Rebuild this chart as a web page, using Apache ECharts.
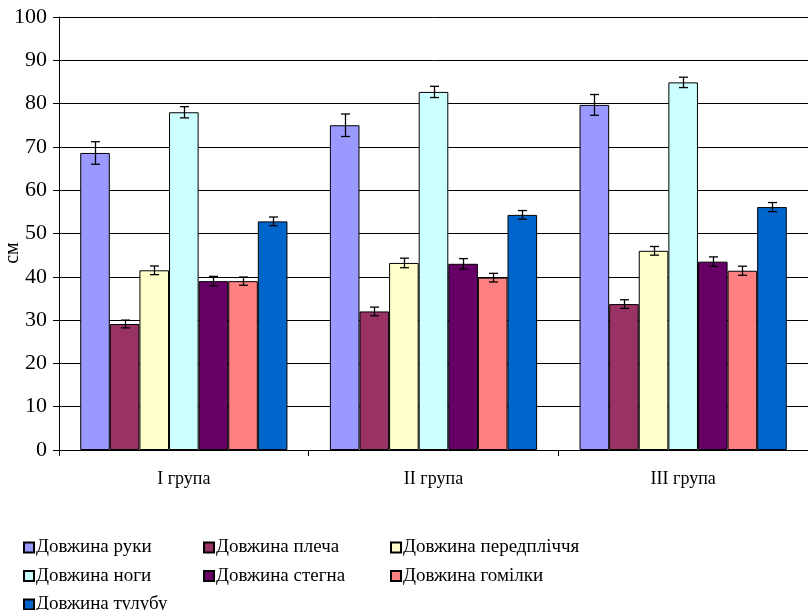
<!DOCTYPE html>
<html><head><meta charset="utf-8">
<script src="https://cdn.jsdelivr.net/npm/echarts@6/dist/echarts.min.js"></script>
<style>html,body{margin:0;padding:0;background:#fff}#c{width:808px;height:610px}</style>
</head><body><div id="c"></div>
<script>
const categories = ['I група', 'II група', 'III група'];
const seriesNames = ['Довжина руки', 'Довжина плеча', 'Довжина передпліччя', 'Довжина ноги', 'Довжина стегна', 'Довжина гомілки', 'Довжина тулубу'];
const armLen = [68.6, 75.0, 79.7];
const shoulderLen = [29.1, 32.0, 33.7];
const forearmLen = [41.5, 43.2, 46.0];
const legLen = [78.0, 82.7, 84.9];
const thighLen = [39.0, 43.0, 43.5];
const shinLen = [39.0, 39.8, 41.4];
const torsoLen = [52.8, 54.3, 56.1];
const armErr = [2.6, 2.6, 2.4];
const shoulderErr = [0.9, 1.0, 1.0];
const forearmErr = [1.0, 1.1, 1.0];
const legErr = [1.3, 1.3, 1.2];
const thighErr = [1.1, 1.2, 1.1];
const shinErr = [0.95, 1.0, 1.05];
const torsoErr = [1.0, 1.0, 1.05];
const yTicks = [0, 10, 20, 30, 40, 50, 60, 70, 80, 90, 100];

const values = [armLen, shoulderLen, forearmLen, legLen, thighLen, shinLen, torsoLen];
const errors = [armErr, shoulderErr, forearmErr, legErr, thighErr, shinErr, torsoErr];
const colors = ['#9999FF', '#993366', '#FFFFCC', '#CCFFFF', '#660066', '#FF8080', '#0066CC'];
const FONT = '"Liberation Serif", "Times New Roman", serif';
const CAT_GAP = 0.17;

const errData = [];
values.forEach((arr, si) => arr.forEach((v, ci) => errData.push([ci, v, errors[si][ci], si])));

const series = values.map((arr, i) => ({
  name: seriesNames[i], type: 'bar', data: arr,
  barGap: '0%', barCategoryGap: (CAT_GAP * 100) + '%',
  itemStyle: { color: colors[i], borderColor: '#000', borderWidth: 1 },
  emphasis: { disabled: true }, animation: false
}));
series.push({
  type: 'custom', data: errData, z: 10, animation: false, silent: true,
  encode: { x: 0, y: 1 },
  renderItem: function (params, api) {
    const ci = api.value(0), v = api.value(1), e = api.value(2), si = api.value(3);
    const band = api.size([1, 0])[0];
    const bw = band * (1 - CAT_GAP) / 7;
    const top = api.coord([ci, v + e]);
    const bot = api.coord([ci, v - e]);
    const x = Math.round(top[0] + (si - 3) * bw) + 0.5;
    const cap = 4.5;
    const st = { stroke: '#000', lineWidth: 1.3 };
    return { type: 'group', children: [
      { type: 'line', shape: { x1: x, y1: top[1], x2: x, y2: bot[1] }, style: st },
      { type: 'line', shape: { x1: x - cap, y1: top[1], x2: x + cap, y2: top[1] }, style: st },
      { type: 'line', shape: { x1: x - cap, y1: bot[1], x2: x + cap, y2: bot[1] }, style: st }
    ]};
  }
});

function legendCol(left, names) {
  return {
    left: left, top: 533, height: 90, orient: 'vertical', itemGap: 9.5,
    itemWidth: 10, itemHeight: 10, icon: 'rect', data: names, selectedMode: false,
    textStyle: { fontFamily: FONT, fontSize: 19, lineHeight: 18, color: '#000', padding: [0, 0, 0, -3] }
  };
}

const chart = echarts.init(document.getElementById('c'), null, { renderer: 'canvas' });
chart.setOption({
  animation: false,
  backgroundColor: '#fff',
  grid: { left: 59, top: 17, width: 750, height: 433, containLabel: false },
  xAxis: {
    type: 'category', data: categories,
    axisLine: { lineStyle: { color: '#000', width: 1 } },
    axisTick: { show: true, length: 6, lineStyle: { color: '#000' } },
    axisLabel: { fontFamily: FONT, fontSize: 18, color: '#000', margin: 20 }
  },
  yAxis: {
    type: 'value', min: yTicks[0], max: yTicks[yTicks.length - 1], interval: 10,
    axisLine: { show: true, lineStyle: { color: '#000', width: 1 } },
    axisTick: { show: true, length: 6, lineStyle: { color: '#000' } },
    axisLabel: { fontFamily: FONT, fontSize: 22, color: '#000', margin: 12 },
    splitLine: { lineStyle: { color: '#000', width: 1 } }
  },
  legend: [
    legendCol(18, [seriesNames[0], seriesNames[3], seriesNames[6]]),
    legendCol(198, [seriesNames[1], seriesNames[4]]),
    legendCol(385, [seriesNames[2], seriesNames[5]])
  ],
  graphic: [{
    type: 'text', x: 13, y: 253, rotation: Math.PI / 2,
    style: { text: 'см', font: '20px ' + FONT, fill: '#000', textAlign: 'center', textVerticalAlign: 'middle' }
  }],
  series: series
});
</script>
</body></html>
